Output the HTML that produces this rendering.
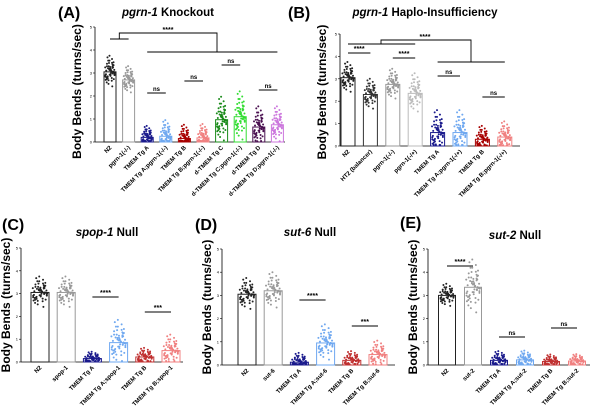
<!DOCTYPE html>
<html><head><meta charset="utf-8">
<style>
html,body{margin:0;padding:0;background:#fff;}
svg{display:block;font-family:"Liberation Sans",sans-serif;}
</style></head>
<body>
<svg id="fig" width="600" height="410" viewBox="0 0 600 410" xmlns="http://www.w3.org/2000/svg"></svg>
<script>
// ---- data arrays ----
const catsA = ["N2","pgrn-1(-/-)","TMEM Tg A","TMEM Tg A;pgrn-1(-/-)","TMEM Tg B","TMEM Tg B;pgrn-1(-/-)","d-TMEM Tg C","d-TMEM Tg C;pgrn-1(-/-)","d-TMEM Tg D","d-TMEM Tg D;pgrn-1(-/-)"];
const meansA = [3.05,2.7,0.2,0.25,0.15,0.18,0.97,1.1,0.65,0.75];
const sdA = [0.35,0.3,0.25,0.35,0.3,0.3,0.5,0.55,0.45,0.4];
const catsB = ["N2","HT2 (balancer)","pgrn-1(-/-)","pgrn-1(-/+)","TMEM Tg A","TMEM Tg A;pgrn-1(-/+)","TMEM Tg B","TMEM Tg B;pgrn-1(-/+)"];
const meansB = [3.05,2.3,2.75,2.35,0.6,0.6,0.3,0.4];
const sdB = [0.35,0.35,0.35,0.45,0.5,0.5,0.3,0.35];
const catsC = ["N2","spop-1","TMEM Tg A","TMEM Tg A;spop-1","TMEM Tg B","TMEM Tg B;spop-1"];
const meansC = [3.05,3.05,0.15,0.85,0.22,0.5];
const sdC = [0.35,0.35,0.15,0.5,0.2,0.35];
const catsD = ["N2","sut-6","TMEM Tg A","TMEM Tg A;sut-6","TMEM Tg B","TMEM Tg B;sut-6"];
const meansD = [3.05,3.2,0.12,0.95,0.2,0.45];
const sdD = [0.35,0.4,0.2,0.4,0.2,0.3];
const catsE = ["N2","sut-2","TMEM Tg A","TMEM Tg A;sut-2","TMEM Tg B","TMEM Tg B;sut-2"];
const meansE = [3.0,3.35,0.2,0.22,0.15,0.17];
const sdE = [0.25,0.6,0.2,0.2,0.15,0.15];
const yTicks = [0,1,2,3,4,5];
// fixed spread pattern (normalized offsets)
const zPat = [0.1,-0.6,1.2,-1.1,0.4,-0.2,0.8,-1.5,1.6,0.0,-0.8,0.6,-0.4,1.0,-0.1,0.3,-1.3,0.9,-0.5,2.0,0.2,-0.9,1.4,-0.3,0.5,-0.7,0.7,-1.8,0.15,1.1,-0.05,0.45,-1.0,0.25,-0.35,1.8,-0.15,0.55,-0.65,0.05];
const uPat = [0.3,-0.8,0.6,-0.2,0.9,-0.5,0.1,-0.9,0.5,-0.3,0.8,-0.6,0.2,-0.1,0.7,-0.7,0.4,-0.4,0.95,-0.95,0.0,0.35,-0.25,0.65,-0.85,0.15,-0.55,0.75,-0.15,0.45,-0.45,0.85,-0.65,0.25,-0.35,0.55,-0.75,0.05,-0.05,0.5];

const NS="http://www.w3.org/2000/svg";
const svg=document.getElementById('fig');
function el(tag,attrs,parent){const e=document.createElementNS(NS,tag);for(const k in attrs)e.setAttribute(k,attrs[k]);(parent||svg).appendChild(e);return e;}

function panel(p){
  const g=el('g',{});
  
  
  const yS=v=>p.y0-(p.y0-p.y5)*v/5;
  const xS=i=>p.x0+i*p.step;
  const L=el('text',{x:p.lx,y:p.ly,'font-size':16,'font-weight':'bold',fill:'#000'},g);L.textContent=p.letter;
  
  const T=el('text',{x:p.tx,y:p.ty,'font-size':11.5,'font-weight':'bold','text-anchor':'middle',fill:'#000'},g);
  
  const ti=el('tspan',{'font-style':'italic'},T);ti.textContent=p.titleI;
  const tn=el('tspan',{},T);tn.textContent=p.titleN;
  const yl=el('text',{x:0,y:0,'font-size':12,'font-weight':'bold','text-anchor':'middle',transform:`translate(${p.axX-p.ylOff},${(p.y0+p.y5)/2+(p.ylDy||0)}) rotate(-90)`},g);
  yl.textContent='Body Bends (turns/sec)';
  
  el('line',{x1:p.axX,y1:p.y5,x2:p.axX,y2:p.y0,stroke:'#000','stroke-width':0.8},g);
  el('line',{x1:p.axX,y1:p.y0,x2:p.axEnd,y2:p.y0,stroke:'#000','stroke-width':0.8},g);
  yTicks.forEach(t=>{
    el('line',{x1:p.axX-2,y1:yS(t),x2:p.axX,y2:yS(t),stroke:'#000','stroke-width':0.6},g);
    const tt=el('text',{x:p.axX-3,y:yS(t)+1.5,'font-size':4,'text-anchor':'end'},g);tt.textContent=t;
    
  });
  p.cats.forEach((c,i)=>{
    const cx=xS(i),m=p.means[i],col=p.colors[i];
    const b=el('rect',{x:cx-p.bw/2,y:yS(m),width:p.bw,height:p.y0-yS(m),fill:'#fff',stroke:col,'stroke-width':1},g);
    
    
    for(let k=0;k<zPat.length*1.5;k++){
      const z=zPat[k%zPat.length]*(k>=zPat.length?0.7:1),u=uPat[(k*7)%uPat.length];
      let v=m+p.sds[i]*z; if(v<0.02)v=0.02+Math.abs(u)*0.05;
      const d=el('circle',{cx:cx+u*p.bw*0.42,cy:yS(v),r:1,fill:col},g);
      
    }
    const xl=el('text',{x:0,y:0,'font-size':6,'font-weight':'bold','text-anchor':'end',transform:`translate(${cx+2},${p.y0+6}) rotate(-45)`},g);
    xl.textContent=c;
    
  });
  (p.br||[]).forEach(b=>{
    el('line',{x1:xS(b[0]),y1:b[2],x2:xS(b[1]),y2:b[2],stroke:'#000','stroke-width':0.9},g);
    const s=el('text',{x:(xS(b[0])+xS(b[1]))/2,y:b[2]-2,'font-size':b[3]=='ns'?6:7,'text-anchor':'middle','font-weight':'bold'},g);
    s.textContent=b[3];
  });
  if(p.extra)p.extra(g,xS);
}
const cN2='#222',cGr='#999';
panel({name:'panel-a',letter:'(A)',lx:58,ly:18,tx:168,ty:16,titleI:'pgrn-1',titleN:' Knockout',axX:95,ylOff:14,ylDy:7,y0:142,y5:27,axEnd:285,x0:110,step:18.6,bw:12,cats:catsA,means:meansA,sds:sdA,
 colors:[cN2,cGr,'#1a1a8c','#6fa8f0','#a80000','#f08080','#1a8a1a','#33dd33','#4a1050','#cc77dd'],
 br:[[2,3,93,'ns'],[4,5,81,'ns'],[6,7,65,'ns'],[8,9,90,'ns']],
 extra:(g,xS)=>{
  el('path',{d:`M${xS(0)} 39H${xS(1)}M${(xS(0)+xS(1))/2} 39V33H217V52M${xS(2)} 52H${xS(9)}`,fill:'none',stroke:'#000','stroke-width':0.9},g);
  const s=el('text',{x:168,y:32,'font-size':7,'text-anchor':'middle','font-weight':'bold'},g);s.textContent='****';
 }});
panel({name:'panel-b',letter:'(B)',lx:288,ly:18,tx:425,ty:16,titleI:'pgrn-1',titleN:' Haplo-Insufficiency',axX:340,ylOff:14,ylDy:2,y0:146,y5:34,axEnd:520,x0:348,step:22.4,bw:14,cats:catsB,means:meansB,sds:sdB,
 colors:[cN2,'#333',cGr,'#bbb','#1a1a8c','#6fa8f0','#a80000','#f08080'],
 br:[[0,1,53,'****'],[2,3,58,'****'],[4,5,76,'ns'],[6,7,97,'ns']],
 extra:(g,xS)=>{
  el('path',{d:`M${xS(0)} 44H${xS(3)}M381 44V40H471V62M${xS(4)} 62H${xS(7)}`,fill:'none',stroke:'#000','stroke-width':0.9},g);
  const s=el('text',{x:425,y:39,'font-size':7,'text-anchor':'middle','font-weight':'bold'},g);s.textContent='****';
 }});
panel({name:'panel-c',letter:'(C)',lx:2,ly:230,tx:107,ty:236,titleI:'spop-1',titleN:' Null',axX:21,ylOff:11,y0:362,y5:248,axEnd:183,x0:40,step:26.2,bw:18,cats:catsC,means:meansC,sds:sdC,
 colors:[cN2,cGr,'#1a1a8c','#6fa8f0','#c03030','#f08080'],
 br:[[2,3,297,'****'],[4,5,312,'***']]});
panel({name:'panel-d',letter:'(D)',lx:195,ly:230,tx:310,ty:236,titleI:'sut-6',titleN:' Null',axX:222,ylOff:11,y0:365,y5:249,axEnd:395,x0:247,step:26.2,bw:18,cats:catsD,means:meansD,sds:sdD,
 colors:[cN2,cGr,'#1a1a8c','#6fa8f0','#c03030','#f08080'],
 br:[[2,3,300,'****'],[4,5,326,'***']]});
panel({name:'panel-e',letter:'(E)',lx:400,ly:228,tx:515,ty:239,titleI:'sut-2',titleN:' Null',axX:428,ylOff:11,y0:365,y5:249,axEnd:590,x0:447,step:26,bw:17,cats:catsE,means:meansE,sds:sdE,
 colors:[cN2,cGr,'#1a1a8c','#6fa8f0','#c03030','#f08080'],
 br:[[0,1,266,'****'],[2,3,337,'ns'],[4,5,328,'ns']]});
</script>
</body></html>
